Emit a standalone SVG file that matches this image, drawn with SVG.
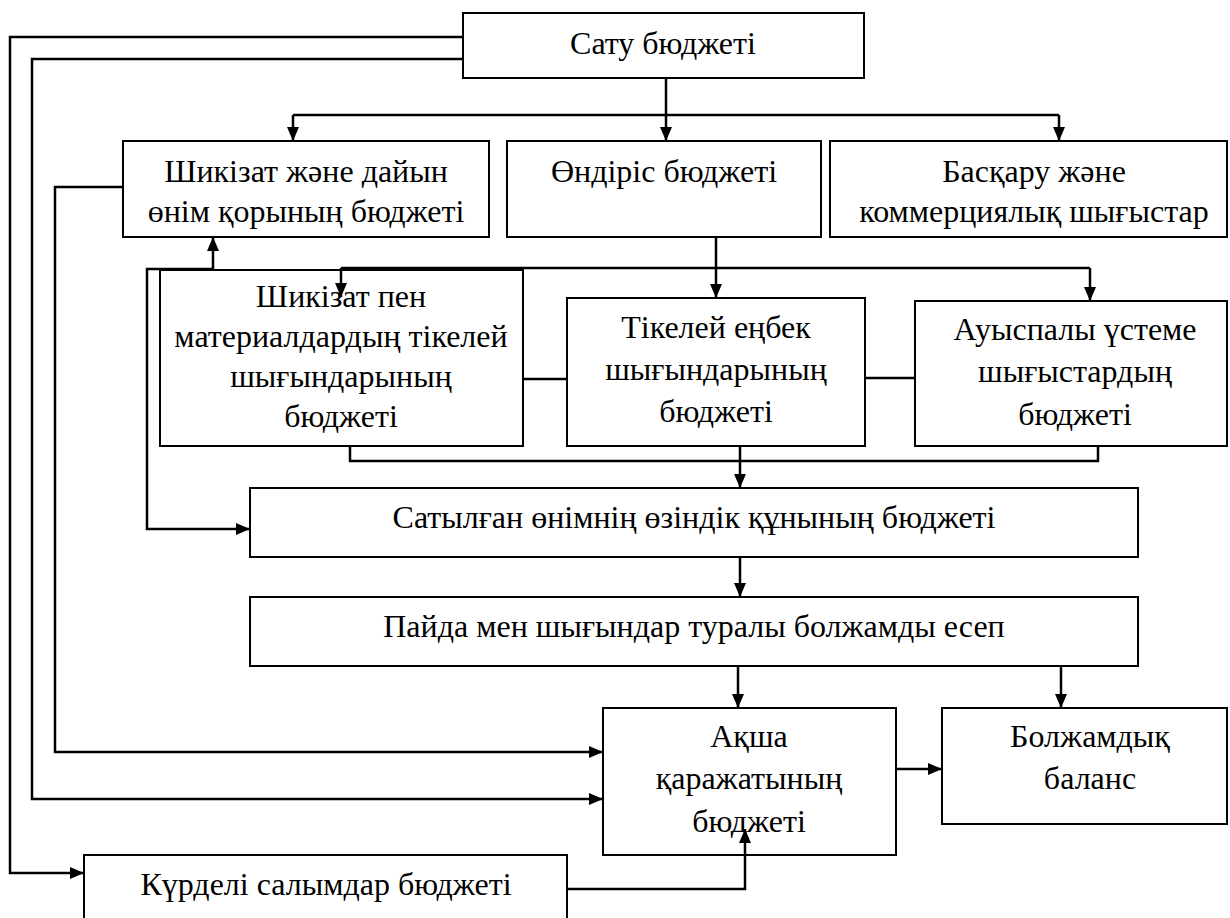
<svg xmlns="http://www.w3.org/2000/svg" width="1230" height="918" viewBox="0 0 1230 918">
<defs>
<marker id="ah" markerUnits="userSpaceOnUse" markerWidth="14" markerHeight="12" refX="14" refY="6" orient="auto">
<path d="M0,0 L14,6 L0,12 z" fill="#000"/>
</marker>
</defs>
<rect width="1230" height="918" fill="#fff"/>
<g id="n-satu"><rect x="463" y="13" width="401" height="65" fill="#fff" stroke="#000" stroke-width="2"/><text x="663" y="54" text-anchor="middle" font-family="Liberation Serif, serif" font-size="32">Сату бюджеті</text></g>
<g id="n-shikizat-qor"><rect x="123" y="141" width="366" height="96" fill="#fff" stroke="#000" stroke-width="2"/><text x="306" y="182" text-anchor="middle" font-family="Liberation Serif, serif" font-size="32">Шикізат және дайын</text><text x="306" y="222" text-anchor="middle" font-family="Liberation Serif, serif" font-size="32">өнім қорының бюджеті</text></g>
<g id="n-ondiris"><rect x="507" y="141" width="314" height="96" fill="#fff" stroke="#000" stroke-width="2"/><text x="664" y="182" text-anchor="middle" font-family="Liberation Serif, serif" font-size="32">Өндіріс бюджеті</text></g>
<g id="n-baskaru"><rect x="830" y="141" width="397" height="96" fill="#fff" stroke="#000" stroke-width="2"/><text x="1034" y="182" text-anchor="middle" font-family="Liberation Serif, serif" font-size="32">Басқару және</text><text x="1034" y="222" text-anchor="middle" font-family="Liberation Serif, serif" font-size="32">коммерциялық шығыстар</text></g>
<g id="n-shikizat-pen"><rect x="160" y="270" width="363" height="176" fill="#fff" stroke="#000" stroke-width="2"/><text x="341" y="307" text-anchor="middle" font-family="Liberation Serif, serif" font-size="32">Шикізат пен</text><text x="341" y="347" text-anchor="middle" font-family="Liberation Serif, serif" font-size="32">материалдардың тікелей</text><text x="341" y="387" text-anchor="middle" font-family="Liberation Serif, serif" font-size="32">шығындарының</text><text x="341" y="427" text-anchor="middle" font-family="Liberation Serif, serif" font-size="32">бюджеті</text></g>
<g id="n-tikelei"><rect x="567" y="298" width="298" height="148" fill="#fff" stroke="#000" stroke-width="2"/><text x="716" y="338" text-anchor="middle" font-family="Liberation Serif, serif" font-size="32">Тікелей еңбек</text><text x="716" y="380" text-anchor="middle" font-family="Liberation Serif, serif" font-size="32">шығындарының</text><text x="716" y="422" text-anchor="middle" font-family="Liberation Serif, serif" font-size="32">бюджеті</text></g>
<g id="n-auyspaly"><rect x="915" y="301" width="312" height="145" fill="#fff" stroke="#000" stroke-width="2"/><text x="1075" y="340" text-anchor="middle" font-family="Liberation Serif, serif" font-size="32">Ауыспалы үстеме</text><text x="1075" y="382" text-anchor="middle" font-family="Liberation Serif, serif" font-size="32">шығыстардың</text><text x="1075" y="425" text-anchor="middle" font-family="Liberation Serif, serif" font-size="32">бюджеті</text></g>
<g id="n-satylgan"><rect x="250" y="488" width="888" height="69" fill="#fff" stroke="#000" stroke-width="2"/><text x="694" y="528" text-anchor="middle" font-family="Liberation Serif, serif" font-size="32">Сатылған өнімнің өзіндік құнының бюджеті</text></g>
<g id="n-paida"><rect x="250" y="597" width="888" height="69" fill="#fff" stroke="#000" stroke-width="2"/><text x="694" y="637" text-anchor="middle" font-family="Liberation Serif, serif" font-size="32">Пайда мен шығындар туралы болжамды есеп</text></g>
<g id="n-aksha"><rect x="603" y="708" width="293" height="147" fill="#fff" stroke="#000" stroke-width="2"/><text x="749" y="747" text-anchor="middle" font-family="Liberation Serif, serif" font-size="32">Ақша</text><text x="749" y="789" text-anchor="middle" font-family="Liberation Serif, serif" font-size="32">қаражатының</text><text x="749" y="832" text-anchor="middle" font-family="Liberation Serif, serif" font-size="32">бюджеті</text></g>
<g id="n-balans"><rect x="942" y="708" width="285" height="116" fill="#fff" stroke="#000" stroke-width="2"/><text x="1090" y="747" text-anchor="middle" font-family="Liberation Serif, serif" font-size="32">Болжамдық</text><text x="1090" y="789" text-anchor="middle" font-family="Liberation Serif, serif" font-size="32">баланс</text></g>
<g id="n-kurdeli"><rect x="84" y="855" width="483" height="70" fill="#fff" stroke="#000" stroke-width="2"/><text x="326" y="895" text-anchor="middle" font-family="Liberation Serif, serif" font-size="32">Күрделі салымдар бюджеті</text></g>
<g id="connectors" fill="none" stroke="#000" stroke-width="2.5">
<path marker-end="url(#ah)" d="M463,37 H10 V873 H84"/>
<path marker-end="url(#ah)" d="M463,59 H32 V799 H603"/>
<path marker-end="url(#ah)" d="M123,187 H55 V752 H603"/>
<path marker-end="url(#ah)" d="M666,78 V141"/>
<path d="M293,115 H1059"/>
<path marker-end="url(#ah)" d="M293,115 V141"/>
<path marker-end="url(#ah)" d="M1059,115 V141"/>
<path marker-end="url(#ah)" d="M716,237 V298"/>
<path d="M341,268 H1090"/>
<path marker-end="url(#ah)" d="M341,268 V297"/>
<path marker-end="url(#ah)" d="M1090,268 V301"/>
<path marker-end="url(#ah)" d="M213,269 V237"/>
<path marker-end="url(#ah)" d="M213,269 H147 V529 H250"/>
<path d="M523,379 H567"/>
<path d="M865,378 H915"/>
<path d="M350,446 V461 H1098 V446"/>
<path marker-end="url(#ah)" d="M740,446 V488"/>
<path marker-end="url(#ah)" d="M740,557 V597"/>
<path marker-end="url(#ah)" d="M738,666 V708"/>
<path marker-end="url(#ah)" d="M1061,666 V708"/>
<path marker-end="url(#ah)" d="M896,769 H942"/>
<path marker-end="url(#ah)" d="M567,889 H745 V829"/>
</g>
</svg>
